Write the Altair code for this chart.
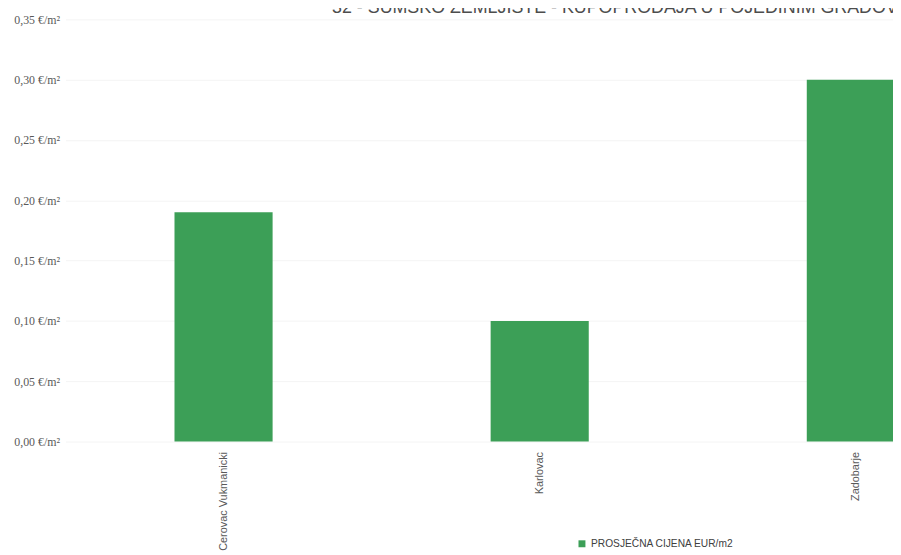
import altair as alt
import pandas as pd

cities = ["Cerovac Vukmanicki", "Karlovac", "Zadobarje"]
prices = [0.19, 0.10, 0.30]
series_name = "PROSJEČNA CIJENA EUR/m2"
y_ticks = [0.0, 0.05, 0.10, 0.15, 0.20, 0.25, 0.30, 0.35]
title_text = "32 - ŠUMSKO ZEMLJIŠTE - KUPOPRODAJA U POJEDINIM GRADOVIMA"

df = pd.DataFrame({"grad": cities, "cijena": prices, "serija": [series_name] * len(cities)})
tdf = pd.DataFrame({"t": [title_text]})

bars = alt.Chart(df).mark_bar(size=99).encode(
    x=alt.X(
        "grad:N",
        sort=cities,
        scale=alt.Scale(range=[1, 958], paddingInner=0, paddingOuter=0),
        axis=alt.Axis(
            title=None, labelAngle=-90, labelPadding=10, ticks=False, domain=False,
            labelFont="Liberation Sans", labelFontSize=11, labelColor="#595959",
        ),
    ),
    y=alt.Y(
        "cijena:Q",
        scale=alt.Scale(domain=[0, 0.35], nice=False),
        axis=alt.Axis(
            values=y_ticks,
            labelExpr="replace(format(datum.value, '.2f'), '.', ',') + ' €/m²'",
            title=None, ticks=False, domain=False, grid=True, gridColor="#f4f4f4",
            labelPadding=5, labelFont="Liberation Serif", labelFontSize=12,
            labelColor="#595959",
        ),
    ),
    color=alt.Color(
        "serija:N",
        scale=alt.Scale(range=["#3c9f57"]),
        legend=alt.Legend(
            title=None, orient="none", legendX=517, legendY=524,
            symbolType="square", symbolSize=49, symbolStrokeWidth=0,
            labelFont="Liberation Sans", labelFontSize=10.3, labelColor="#404040",
        ),
    ),
)

title = alt.Chart(tdf).mark_text(
    align="left", baseline="alphabetic", fontSize=18,
    font="Liberation Sans", color="#4d4d4d",
).encode(x=alt.value(270), y=alt.value(-6), text="t:N")

chart = alt.layer(bars, title).properties(
    width=836,
    height=426,
    autosize=alt.AutoSizeParams(type="none"),
    padding={"left": 57, "top": 9, "right": 0, "bottom": 112},
).configure_view(stroke=None)

chart.save("out.html", embed_options={"renderer": "svg", "actions": False})
